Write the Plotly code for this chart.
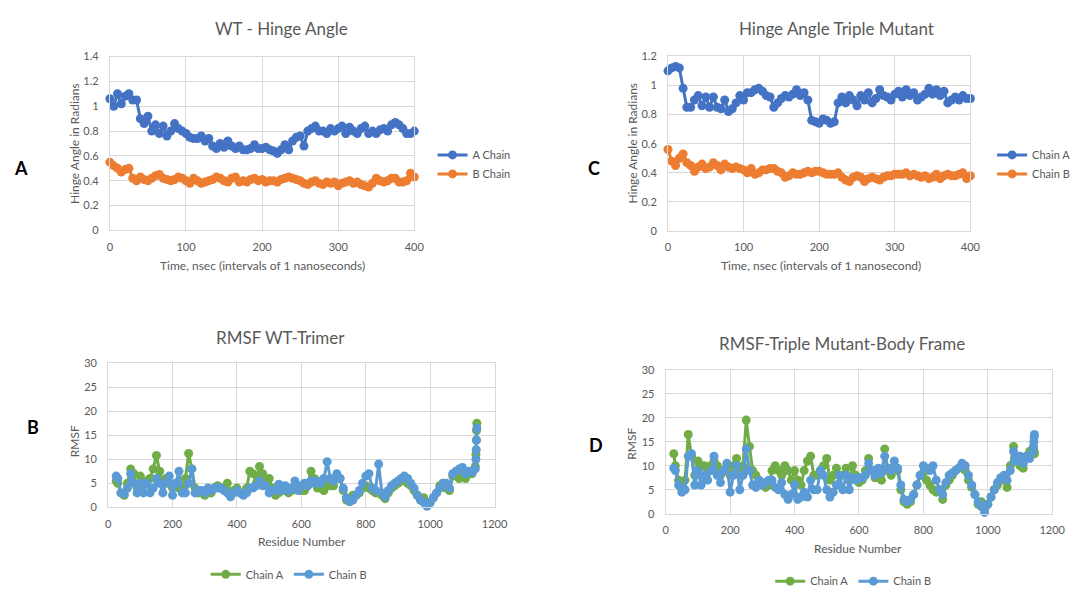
import plotly.graph_objects as go

W, H = 1078, 596
FONT = "Lato"
GREY = "#595959"
GRID = "#d9d9d9"

# ---------------- data ----------------
time_ns = list(range(0, 401, 5))

wt_a_chain = [
    1.06, 1.0, 1.1, 1.02, 1.08, 1.1, 1.05, 1.05, 0.9, 0.86,
    0.92, 0.8, 0.85, 0.78, 0.84, 0.76, 0.8, 0.86, 0.82, 0.8,
    0.78, 0.75, 0.74, 0.74, 0.76, 0.72, 0.74, 0.68, 0.66, 0.7,
    0.67, 0.72, 0.68, 0.66, 0.68, 0.65, 0.65, 0.66, 0.69, 0.66,
    0.66, 0.67, 0.65, 0.64, 0.62, 0.65, 0.69, 0.65, 0.72, 0.75,
    0.76, 0.68, 0.8, 0.82, 0.84, 0.8, 0.8, 0.78, 0.82, 0.8,
    0.82, 0.84, 0.78, 0.83, 0.8, 0.78, 0.82, 0.84, 0.78, 0.8,
    0.78, 0.81, 0.82, 0.8, 0.85, 0.87, 0.85, 0.82, 0.78, 0.78,
    0.8]
wt_b_chain = [
    0.55, 0.52, 0.5, 0.47, 0.49, 0.5, 0.42, 0.4, 0.43, 0.41,
    0.4, 0.42, 0.44, 0.45, 0.42, 0.41, 0.4, 0.41, 0.43, 0.42,
    0.4, 0.38, 0.42, 0.4, 0.38, 0.39, 0.4, 0.41, 0.43, 0.42,
    0.4, 0.39, 0.42, 0.43, 0.39, 0.4, 0.39, 0.41, 0.42, 0.4,
    0.41, 0.39, 0.4, 0.4, 0.39, 0.41, 0.42, 0.43, 0.42, 0.41,
    0.4, 0.38, 0.37, 0.39, 0.4, 0.38, 0.37, 0.39, 0.38, 0.39,
    0.36, 0.38, 0.39, 0.4, 0.38, 0.39, 0.37, 0.36, 0.35, 0.38,
    0.42, 0.4, 0.39, 0.4, 0.42, 0.42, 0.39, 0.39, 0.4, 0.46,
    0.43]
tm_a_chain = [
    1.1, 1.12, 1.13, 1.12, 0.98, 0.85, 0.85, 0.9, 0.93, 0.86,
    0.92, 0.85, 0.92, 0.85, 0.84, 0.9, 0.82, 0.84, 0.88, 0.93,
    0.9, 0.95, 0.95, 0.97, 0.98, 0.96, 0.93, 0.92, 0.85, 0.88,
    0.91, 0.93, 0.92, 0.94, 0.97, 0.93, 0.95, 0.9, 0.76, 0.75,
    0.74, 0.77, 0.76, 0.74, 0.75, 0.88, 0.92, 0.88, 0.93, 0.9,
    0.86, 0.93, 0.9, 0.95, 0.88, 0.91, 0.97, 0.93, 0.92, 0.9,
    0.94, 0.96, 0.92, 0.97, 0.93, 0.95, 0.9, 0.92, 0.94, 0.98,
    0.94, 0.97, 0.93, 0.96, 0.88, 0.9, 0.92, 0.9, 0.93, 0.91,
    0.91]
tm_b_chain = [
    0.56, 0.48, 0.45, 0.5, 0.53, 0.47, 0.45, 0.41, 0.44, 0.46,
    0.43, 0.44, 0.47, 0.45, 0.42, 0.46, 0.44, 0.43, 0.44, 0.43,
    0.42, 0.4, 0.43, 0.39, 0.4, 0.42, 0.42, 0.43, 0.43, 0.41,
    0.4, 0.37, 0.38, 0.4, 0.39, 0.39, 0.4, 0.41, 0.4, 0.41,
    0.41, 0.4, 0.39, 0.39, 0.39, 0.4, 0.37, 0.35, 0.34, 0.37,
    0.38, 0.37, 0.34, 0.36, 0.37, 0.36, 0.35, 0.37, 0.38, 0.38,
    0.39, 0.39, 0.39, 0.4, 0.38, 0.39, 0.38, 0.37, 0.38, 0.36,
    0.37, 0.39, 0.36, 0.38, 0.39, 0.38, 0.38, 0.39, 0.4, 0.36,
    0.38]

residues = [25, 30, 40, 50, 60, 70, 80, 90] + list(range(100, 1141, 10)) + [1142, 1143, 1144, 1145]

wt_rmsf_a = [
    5.5, 5, 3, 2.5, 5, 8, 7, 4,
    6.5, 5, 5.5, 6, 8, 10.8, 7.5, 5, 6, 5,
    4, 5, 4, 4, 6, 11.2, 8, 4, 3, 3,
    2.5, 3, 3, 4, 4.5, 4, 4, 5, 3, 3.5,
    4, 3, 3, 4, 7.5, 7, 5, 8.5, 7, 5,
    6, 4, 2.5, 3, 4, 3.5, 3, 3.5, 4, 4,
    3.5, 3.5, 5, 7.5, 6, 4, 4, 3.5, 5, 4.5,
    4.5, 6.5, 6, 3.5, 1.5, 1.2, 2.5, 2.5, 3, 4,
    4.5, 4, 3.5, 3, 3, 2.5, 1.8, 3, 4, 4.5,
    5, 5.5, 5.5, 5, 4.5, 3.5, 2.5, 1.5, 2, 1,
    1, 2, 3, 4.5, 5, 4, 3.5, 6.5, 7, 6,
    7, 6, 7, 7, 8.5, 11, 14, 16, 17.5]
wt_rmsf_b = [
    6.5, 6, 3, 2.8, 4, 7, 5, 3,
    5, 3, 5, 3, 4, 6, 5, 3, 5, 6.5,
    2.5, 5, 7.5, 3, 3, 5, 8, 3, 3.5, 3.5,
    3, 4, 3.5, 4, 4, 4, 3.5, 3, 2.2, 3,
    3.5, 3, 2.5, 3, 4, 4, 4.5, 5.5, 4.5, 4.5,
    3, 3.5, 3.5, 4.8, 3.5, 4.5, 3.5, 4, 5.5, 3.5,
    4.5, 5, 4.5, 5.5, 5, 5.5, 5, 6, 9.5, 6,
    5.5, 7, 6, 4, 2, 1.2, 1.5, 2.5, 3.5, 5,
    6.5, 7, 4, 3.5, 9, 3, 2.2, 3.5, 4.5, 5,
    5.5, 6, 6.5, 6, 5, 4, 2.5, 1.5, 1, 0.2,
    1, 2, 3, 4, 5, 5, 4, 7, 7.5, 8,
    8.3, 7, 7.5, 7.3, 8, 10, 12, 14, 16.5]
tm_rmsf_a = [
    12.5, 10, 7, 5, 7, 16.5, 12, 8,
    11, 10, 10, 9, 10, 11, 10, 8, 9, 10,
    8, 10, 11.5, 8, 10, 19.5, 14, 9, 8, 7,
    6, 5.5, 6, 9, 10, 9, 8, 10, 9, 7,
    9, 7, 6, 9, 11, 12, 8, 8, 9, 10,
    11.5, 7, 8, 9.5, 8, 8, 9.5, 7, 10, 8,
    6.5, 7, 9, 11.5, 9, 7.5, 8, 7, 13.5, 9,
    8, 10, 9, 5, 2.5, 2, 2.5, 4, 6, 8,
    8.5, 7, 6, 5, 4.5, 5, 3, 6, 7, 8,
    9, 9.5, 10, 9, 7, 5.5, 4, 2, 2.5, 1,
    2, 3.5, 5, 6, 7, 7, 5.5, 10, 14, 11,
    10, 9.5, 12, 13, 13.5, 13.5, 13, 12.8, 12.5]
tm_rmsf_b = [
    9.5, 9, 6, 4.5, 5, 12, 12.5, 6,
    9, 6, 8, 7, 9, 12, 8, 6.5, 9, 10.5,
    4.5, 8, 10, 5, 8, 13.5, 9, 6, 5.5, 7,
    6, 6.5, 7, 7, 5.5, 5, 6.5, 4, 3, 4,
    6, 3, 3.5, 4.5, 3.5, 7, 5, 5, 9, 8,
    5, 3.5, 4.5, 6, 8, 5, 8, 5, 7.5, 7,
    7.5, 7.5, 8, 10.5, 9, 8, 9.5, 8.5, 12, 9.5,
    9, 11, 9.5, 6, 3, 2.5, 3, 4, 6, 8,
    10, 9.5, 9, 10, 7, 5, 4, 6.5, 8, 8.5,
    9, 9.5, 10.5, 10, 8, 6, 4, 2.5, 1.5, 0.3,
    2, 3.5, 5, 6.5, 7.5, 8, 7, 9, 13, 11,
    12, 10.5, 12, 11.5, 13, 14, 15, 16, 16.5]

titles = ["WT - Hinge Angle", "Hinge Angle Triple Mutant", "RMSF WT-Trimer", "RMSF-Triple Mutant-Body Frame"]
panel_letters = ["A", "C", "B", "D"]

BLUE, ORANGE, GREEN, LBLUE = "#4472C4", "#ED7D31", "#70AD47", "#5B9BD5"


def fx(p):
    return p / W


def fy(p):
    return 1 - p / H


fig = go.Figure()


def add(x, y, name, color, xa, ya, legend):
    fig.add_trace(go.Scatter(
        x=x, y=y, name=name, mode="lines+markers",
        line=dict(color=color, width=3),
        marker=dict(color=color, size=9),
        xaxis=xa, yaxis=ya, legend=legend, cliponaxis=False))


add(time_ns, wt_a_chain, "A Chain", BLUE, "x", "y", "legend")
add(time_ns, wt_b_chain, "B Chain", ORANGE, "x", "y", "legend")
add(time_ns, tm_a_chain, "Chain A", BLUE, "x2", "y2", "legend2")
add(time_ns, tm_b_chain, "Chain B", ORANGE, "x2", "y2", "legend2")
add(residues, wt_rmsf_a, "Chain A", GREEN, "x3", "y3", "legend3")
add(residues, wt_rmsf_b, "Chain B", LBLUE, "x3", "y3", "legend3")
add(residues, tm_rmsf_a, "Chain A", GREEN, "x4", "y4", "legend4")
add(residues, tm_rmsf_b, "Chain B", LBLUE, "x4", "y4", "legend4")

tickfont = dict(family=FONT, size=11, color=GREY)


def xax(dom, rng, dt, anchor):
    return dict(domain=[fx(dom[0]), fx(dom[1])], range=rng, dtick=dt, anchor=anchor,
                showgrid=True, gridcolor=GRID, gridwidth=1, zeroline=False,
                showline=True, linecolor=GRID, mirror=True, tickfont=tickfont,
                ticks="", ticklabelstandoff=6, fixedrange=True)


def yax(dom, rng, dt, anchor):
    return dict(domain=[fy(dom[1]), fy(dom[0])], range=rng, dtick=dt, anchor=anchor,
                showgrid=True, gridcolor=GRID, gridwidth=1, zeroline=False,
                showline=True, linecolor=GRID, mirror=True, tickfont=tickfont,
                ticks="", ticklabelstandoff=8, fixedrange=True)


fig.update_layout(
    xaxis=xax((108.5, 417.5), [0, 400], 100, "y"),
    yaxis=yax((51, 230), [0, 1.4], 0.2, "x"),
    xaxis2=xax((675, 982), [0, 400], 100, "y2"),
    yaxis2=yax((50.7, 230.7), [0, 1.2], 0.2, "x2"),
    xaxis3=xax((106.7, 499), [0, 1200], 200, "y3"),
    yaxis3=yax((366.7, 515), [0, 30], 5, "x3"),
    xaxis4=xax((672.7, 1065), [0, 1200], 200, "y4"),
    yaxis4=yax((373.3, 521.7), [0, 30], 5, "x4"),
)

legfont = dict(family=FONT, size=11, color=GREY)
fig.update_layout(
    legend=dict(x=fx(436), y=fy(162), xanchor="left", yanchor="middle", orientation="v",
                font=legfont, bgcolor="rgba(0,0,0,0)", tracegroupgap=0),
    legend2=dict(x=fx(1004), y=fy(162), xanchor="left", yanchor="middle", orientation="v",
                 font=legfont, bgcolor="rgba(0,0,0,0)", tracegroupgap=0),
    legend3=dict(x=fx(290), y=fy(584), xanchor="center", yanchor="middle", orientation="h",
                 font=legfont, bgcolor="rgba(0,0,0,0)"),
    legend4=dict(x=fx(863), y=fy(591), xanchor="center", yanchor="middle", orientation="h",
                 font=legfont, bgcolor="rgba(0,0,0,0)"),
)

ann = []


def text(x, y, s, size, angle=0, color=GREY, bold=False):
    ann.append(dict(x=fx(x), y=fy(y), xref="paper", yref="paper", text=("<b>%s</b>" % s) if bold else s,
                    showarrow=False, xanchor="center", yanchor="middle", textangle=angle,
                    font=dict(family=FONT, size=size, color=color)))


# titles
text(283, 22, titles[0], 17)
text(846, 22, titles[1], 17)
text(282, 340, titles[2], 17)
text(852, 346, titles[3], 17)
# axis titles
text(72, 140, "Hinge Angle in Radians", 12)
ann[-1]["textangle"] = -90
text(263, 266, "Time, nsec (intervals of 1 nanoseconds)", 12)
text(638, 140, "Hinge Angle in Radians", 12, -90)
text(830, 266, "Time, nsec (intervals of 1 nanosecond)", 12)
text(72, 447, "RMSF", 12, -90)
text(303, 550, "Residue Number", 12)
text(638, 450, "RMSF", 12, -90)
text(868, 557, "Residue Number", 12)
# panel letters
text(18, 166, panel_letters[0], 18, color="#000000", bold=True)
text(600, 166, panel_letters[1], 18, color="#000000", bold=True)
text(30, 432, panel_letters[2], 18, color="#000000", bold=True)
text(602, 451, panel_letters[3], 18, color="#000000", bold=True)

fig.update_layout(
    annotations=ann, width=W, height=H, autosize=False,
    margin=dict(l=0, r=0, t=0, b=0),
    paper_bgcolor="white", plot_bgcolor="white",
    font=dict(family=FONT, color=GREY),
)

fig.write_html("out.html", config={"displayModeBar": False},
               post_script="document.body.style.margin='0';document.body.style.overflow='hidden';")
